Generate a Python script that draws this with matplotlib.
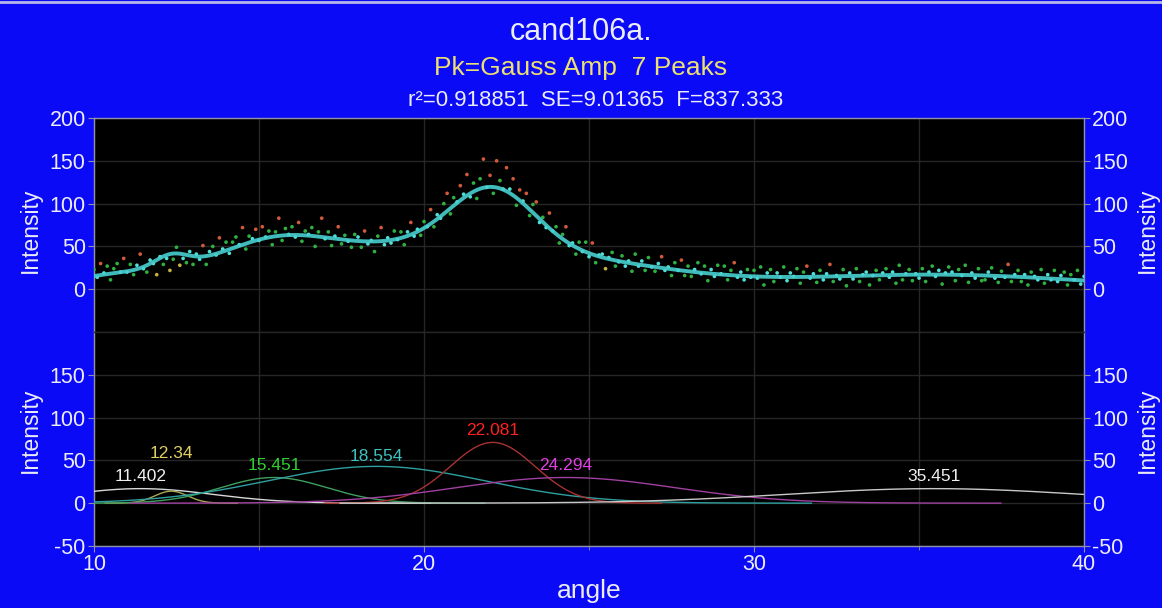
import numpy as np
import matplotlib
matplotlib.use("Agg")
import matplotlib.pyplot as plt
from matplotlib.lines import Line2D

plt.rcParams['font.family'] = ['Liberation Sans', 'DejaVu Sans']
plt.rcParams['axes.unicode_minus'] = False

# Gaussian (amplitude) peaks from the fit
peak_centers = [11.402, 12.34, 15.451, 18.554, 22.081, 24.294, 35.451]
peak_amps = [17, 14, 30, 43, 71, 30, 17]
peak_widths = [2.2, 0.5, 1.6, 3.3, 1.28, 3.3, 4.5]
peak_colors = ['#d8d8d8', '#a8a850', '#3f9f5f', '#2f9f9f', '#a83232', '#a040a0', '#c8c8c8']
label_colors = ['#f0f0f0', '#e0d060', '#30d030', '#40c0c0', '#ff2020', '#e040e0', '#f0f0f0']
label_lift = [3, 22, 3, 2, 3, 3, 3]

# measured pattern, 10..40 deg in 0.1 deg steps
angle_start, angle_step = 10.0, 0.1
intensity = [
    23, 14, 30, 19, 27, 11, 24, 30, 20, 36,
    20, 29, 17, 28, 41, 24, 20, 34, 30, 17,
    38, 29, 36, 22, 35, 49, 28, 36, 31, 44,
    29, 41, 35, 51, 29, 44, 50, 40, 60, 47,
    55, 42, 55, 61, 52, 72, 47, 62, 59, 70,
    57, 73, 61, 68, 52, 67, 83, 57, 71, 64,
    73, 61, 78, 56, 68, 64, 72, 50, 67, 83,
    59, 67, 51, 62, 73, 53, 63, 56, 49, 64,
    61, 49, 68, 53, 57, 44, 62, 72, 52, 60,
    54, 68, 58, 67, 52, 67, 78, 62, 70, 63,
    79, 73, 93, 73, 87, 83, 100, 112, 88, 107,
    102, 121, 111, 134, 108, 124, 106, 129, 152, 119,
    133, 112, 150, 127, 117, 142, 117, 129, 98, 116,
    103, 112, 86, 99, 102, 78, 84, 72, 89, 68,
    73, 54, 64, 73, 51, 54, 41, 55, 44, 55,
    38, 54, 31, 40, 41, 24, 37, 43, 27, 32,
    39, 27, 33, 21, 41, 27, 33, 22, 37, 26,
    21, 30, 38, 22, 26, 16, 31, 22, 34, 16,
    27, 15, 23, 31, 18, 27, 10, 23, 15, 28,
    18, 27, 11, 22, 31, 14, 20, 11, 23, 14,
    22, 13, 26, 5, 19, 23, 9, 19, 14, 26,
    10, 19, 15, 24, 7, 20, 27, 13, 18, 8,
    22, 11, 18, 29, 9, 16, 12, 23, 4, 19,
    12, 24, 9, 17, 20, 5, 16, 22, 11, 19,
    24, 14, 20, 7, 28, 11, 18, 23, 10, 18,
    13, 24, 9, 20, 27, 15, 22, 6, 19, 26,
    20, 10, 23, 16, 28, 8, 19, 13, 24, 10,
    11, 20, 25, 13, 8, 21, 14, 29, 9, 17,
    22, 9, 17, 5, 20, 15, 11, 23, 7, 17,
    11, 22, 9, 16, 20, 5, 17, 11, 22, 6,
    15,
]

title = "cand106a."
subtitle = "Pk=Gauss Amp  7 Peaks"
stats = "r²=0.918851  SE=9.01365  F=837.333"

BLUE = '#0a0af6'
GRID = '#262626'
TXT = '#ececf6'
SPINE = '#9090a8'


def gauss(x, c, a, w):
    return a * np.exp(-0.5 * ((x - c) / w) ** 2)


def model(x):
    return sum(gauss(x, c, a, w) for c, a, w in zip(peak_centers, peak_amps, peak_widths))


angle = angle_start + angle_step * np.arange(len(intensity))
intensity = np.array(intensity, dtype=float)
xs = np.linspace(10, 40, 1501)

fig = plt.figure(figsize=(11.62, 6.08), dpi=100, facecolor=BLUE)
ax_top = fig.add_axes([0.0809, 0.4539, 0.8520, 0.3520])
ax_bot = fig.add_axes([0.0809, 0.1020, 0.8520, 0.3520])

for ax in (ax_top, ax_bot):
    ax.set_facecolor('black')
    ax.set_xlim(10, 40)
    ax.set_ylim(-50, 200)
    ax.set_xticks([10, 20, 30, 40])
    ax.set_xticks([15, 25, 35], minor=True)
    ax.grid(True, which='both', color=GRID, lw=1)
    ax.set_axisbelow(True)
    ax.tick_params(axis='both', which='both', colors=SPINE, labelcolor=TXT,
                   direction='out', labelsize=15.5, left=True, right=True,
                   labelleft=True, labelright=True, pad=2)
    ax.tick_params(which='major', length=4)
    ax.tick_params(which='minor', length=3)
    for s in ax.spines.values():
        s.set_color(SPINE)
        s.set_linewidth(1)

ax_top.set_yticks([0, 50, 100, 150, 200])
ax_top.tick_params(axis='x', which='both', labelbottom=False, length=0)
ax_top.spines['bottom'].set_color(GRID)
ax_bot.set_yticks([-50, 0, 50, 100, 150])
ax_bot.spines['top'].set_color(GRID)

# data points coloured by distance from the fit
resid = intensity - model(angle)
dev = np.abs(resid)
cols = np.where(dev < 5, '#50e0d8', np.where(dev < 12, '#30b040',
                np.where(resid > 0, '#d05a3a', '#c8b040')))
ax_top.scatter(angle, intensity, s=7, c=cols, lw=0, zorder=3)
ax_top.plot(xs, model(xs), color='#48d0d0', lw=2.8, alpha=0.9, zorder=4)

# individual peaks
for c, a, w, pc, lc, lift in zip(peak_centers, peak_amps, peak_widths,
                                 peak_colors, label_colors, label_lift):
    seg = xs[(xs >= c - 4 * w) & (xs <= c + 4 * w)]
    ax_bot.plot(seg, gauss(seg, c, a, w), color=pc, lw=1, zorder=3)
    ax_bot.annotate(f"{c:g}", (c, a), xytext=(0, lift), textcoords='offset points',
                    ha='center', va='bottom', color=lc, fontsize=12.5, zorder=5)

fig.text(0.5, 0.947, title, ha='center', va='center', color=TXT, fontsize=22)
fig.text(0.5, 0.888, subtitle, ha='center', va='center', color='#ece070', fontsize=19)
fig.text(0.513, 0.834, stats, ha='center', va='center', color=TXT, fontsize=16)

for y in (0.622, 0.292):
    fig.text(0.026, y, "Intensity", rotation=90, ha='center', va='center', color=TXT, fontsize=16.5)
    fig.text(0.987, y, "Intensity", rotation=90, ha='center', va='center', color=TXT, fontsize=16.5)
fig.text(0.507, 0.028, "angle", ha='center', va='center', color=TXT, fontsize=19)

# light rule along the top edge of the panel
fig.add_artist(Line2D([0, 1], [0.997, 0.997], transform=fig.transFigure,
                      color='#b8b8e8', lw=2))

fig.savefig("out.png", dpi=100, facecolor=BLUE)
